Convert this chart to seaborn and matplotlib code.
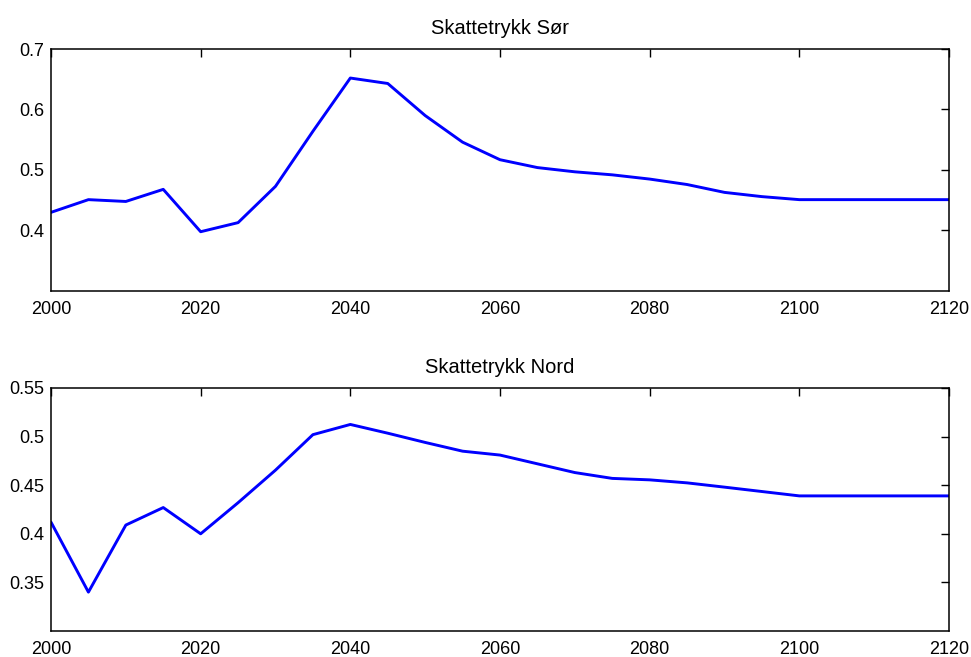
import matplotlib
matplotlib.use("Agg")
import matplotlib.pyplot as plt
import seaborn as sns
import pandas as pd

years = [2000, 2005, 2010, 2015, 2020, 2025, 2030, 2035, 2040, 2045, 2050, 2055, 2060,
         2065, 2070, 2075, 2080, 2085, 2090, 2095, 2100, 2105, 2110, 2115, 2120]
sor = [0.430, 0.451, 0.448, 0.468, 0.398, 0.413, 0.473, 0.564, 0.652, 0.643, 0.590, 0.546, 0.517,
       0.504, 0.497, 0.492, 0.485, 0.476, 0.463, 0.456, 0.451, 0.451, 0.451, 0.451, 0.451]
nord = [0.412, 0.340, 0.409, 0.427, 0.400, 0.432, 0.4655, 0.502, 0.5125, 0.5035, 0.494, 0.485, 0.481,
        0.472, 0.463, 0.457, 0.4555, 0.4524, 0.448, 0.4435, 0.439, 0.439, 0.439, 0.439, 0.439]
titles = ["Skattetrykk Sør", "Skattetrykk Nord"]
xticks = [2000, 2020, 2040, 2060, 2080, 2100, 2120]
yticks_sor = [0.4, 0.5, 0.6, 0.7]
ytick_labels_sor = ["0.4", "0.5", "0.6", "0.7"]
yticks_nord = [0.35, 0.4, 0.45, 0.5, 0.55]
ytick_labels_nord = ["0.35", "0.4", "0.45", "0.5", "0.55"]

sns.set_style("white")
plt.rcParams['font.family'] = ['Liberation Sans', 'DejaVu Sans']

fig = plt.figure(figsize=(9.71, 6.57), dpi=100)
ax1 = fig.add_axes([51/971, 1 - 291/657, 898/971, 242/657])
ax2 = fig.add_axes([51/971, 1 - 631/657, 898/971, 243/657])

df = pd.DataFrame({"year": years, "sor": sor, "nord": nord})

specs = [
    (ax1, "sor", (0.3, 0.7), yticks_sor, ytick_labels_sor, titles[0]),
    (ax2, "nord", (0.3, 0.55), yticks_nord, ytick_labels_nord, titles[1]),
]
for ax, col, ylim, yt, ytl, title in specs:
    sns.lineplot(data=df, x="year", y=col, ax=ax, color=(0, 0, 1), linewidth=2.1)
    ax.set_xlim(2000, 2120)
    ax.set_ylim(*ylim)
    ax.set_xticks(xticks)
    ax.set_xticklabels([str(t) for t in xticks])
    ax.set_yticks(yt)
    ax.set_yticklabels(ytl)
    ax.set_xlabel("")
    ax.set_ylabel("")
    ax.set_title(title, fontsize=14.5, pad=11, color="black")
    ax.tick_params(direction="in", length=6, width=1.0, top=True, right=True,
                   labelsize=13, colors="black")
    ax.tick_params(axis="x", pad=7)
    ax.tick_params(axis="y", pad=5)
    for s in ax.spines.values():
        s.set_visible(True)
        s.set_color("black")
        s.set_linewidth(1.1)
    ax.grid(False)

fig.savefig("out.png", dpi=100, facecolor="white")
